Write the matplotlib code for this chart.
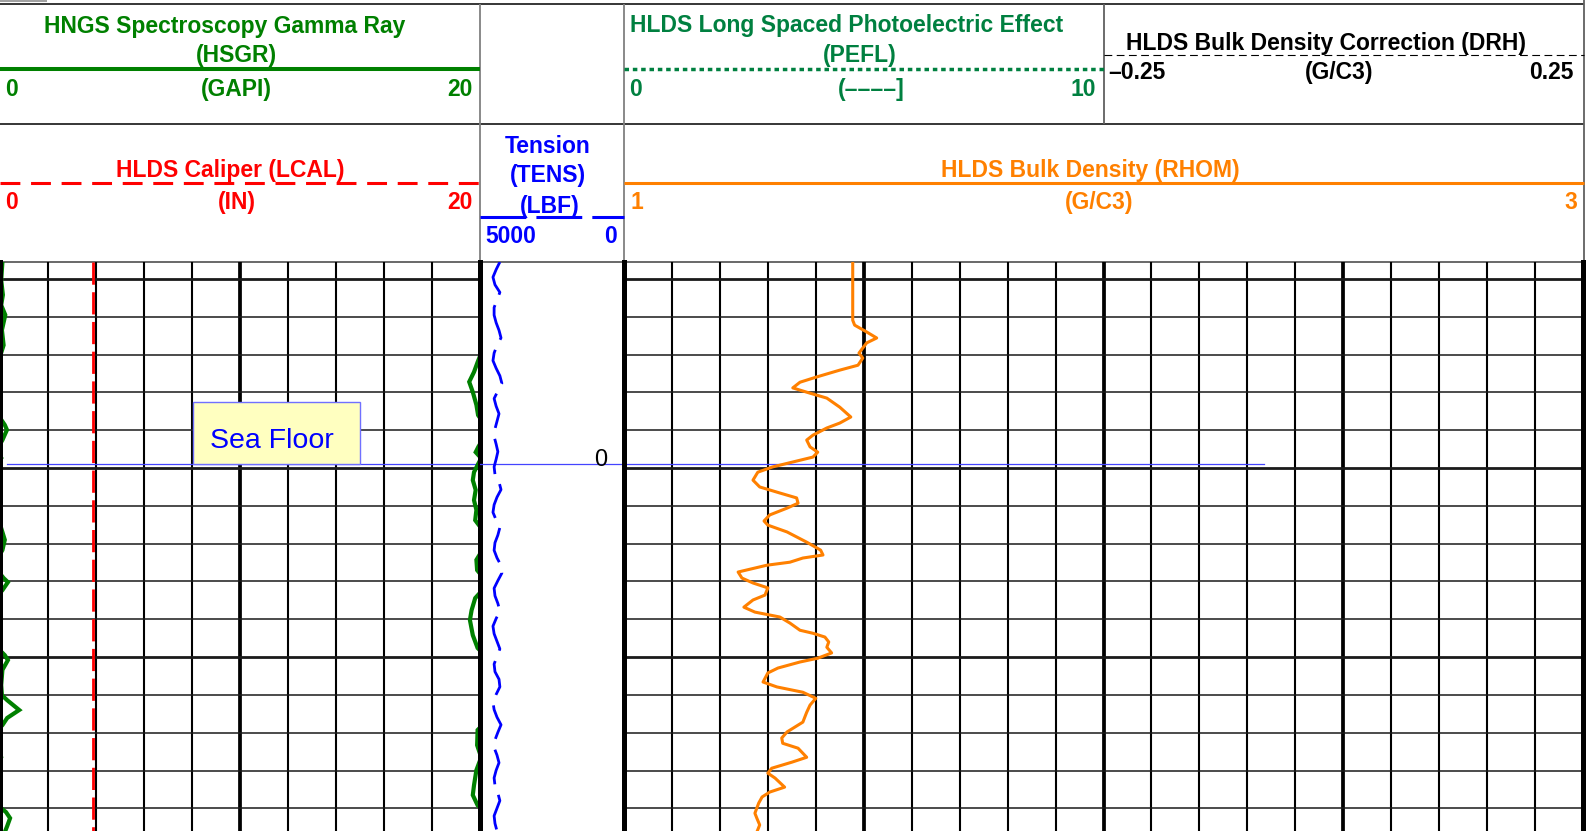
"""
plot.py
Well-log print: HSGR / LCAL, tension and bulk-density tracks around the sea floor.
"""

import numpy as np
import matplotlib
matplotlib.use("Agg")
import matplotlib.pyplot as plt
import matplotlib.transforms as mtransforms
from matplotlib.patches import Rectangle

W, H = 1596, 831
plt.rcParams["font.family"] = ["Liberation Sans", "DejaVu Sans"]

# depth axis in grid units (one unit per horizontal grid line)
TOP_DEPTH = -0.45
BOTTOM_DEPTH = 14.6
SEA_FLOOR_DEPTH = 4.89
SEA_FLOOR_LABEL = "0"

# HLDS bulk density (RHOM), g/cc
RHOM_DEPTH = [-0.45, 1.09, 1.22, 1.40, 1.56, 1.69, 1.96, 2.09, 2.28, 2.41, 2.59, 2.73, 2.88,
              3.02, 3.15, 3.39, 3.65, 3.81, 3.94, 4.13, 4.26, 4.44, 4.58, 4.71, 4.84, 4.97,
              5.11, 5.32, 5.50, 5.66, 5.79, 5.93, 6.06, 6.24, 6.40, 6.51, 6.69, 6.96, 7.17,
              7.30, 7.38, 7.49, 7.57, 7.75, 7.91, 8.04, 8.17, 8.36, 8.49, 8.68, 8.81, 8.94,
              9.10, 9.29, 9.37, 9.47, 9.60, 9.74, 9.89, 10.03, 10.13, 10.29, 10.42, 10.66,
              10.79, 10.93, 11.09, 11.27, 11.46, 11.72, 11.98, 12.14, 12.28, 12.41, 12.65,
              12.78, 12.94, 13.07, 13.20, 13.44, 13.57, 13.70, 13.86, 14.13, 14.26, 14.44, 14.63]
RHOM_GCC = [1.477, 1.477, 1.481, 1.506, 1.527, 1.506, 1.490, 1.498, 1.488, 1.450, 1.402, 1.367,
            1.352, 1.388, 1.423, 1.450, 1.473, 1.450, 1.423, 1.394, 1.381, 1.388, 1.404, 1.394,
            1.352, 1.310, 1.279, 1.269, 1.283, 1.325, 1.360, 1.363, 1.340, 1.304, 1.292, 1.300,
            1.340, 1.381, 1.410, 1.415, 1.373, 1.346, 1.298, 1.238, 1.246, 1.269, 1.300, 1.294,
            1.269, 1.250, 1.273, 1.325, 1.346, 1.367, 1.394, 1.419, 1.427, 1.423, 1.433, 1.404,
            1.367, 1.321, 1.300, 1.290, 1.319, 1.373, 1.400, 1.388, 1.381, 1.373, 1.340, 1.329,
            1.331, 1.363, 1.381, 1.350, 1.308, 1.300, 1.315, 1.335, 1.304, 1.288, 1.281, 1.273,
            1.277, 1.283, 1.277]

# HNGS gamma ray (HSGR), GAPI - hovers around 20 so it wraps onto the backup scale
HSGR_DEPTH = [-0.45, 0.03, 0.42, 0.69, 0.95, 1.35, 1.75, 2.01, 2.20, 2.46, 2.72, 2.99, 3.33,
              3.60, 3.86, 3.99, 4.26, 4.44, 4.58, 4.74, 4.92, 5.11, 5.32, 5.58, 5.85, 6.11,
              6.38, 6.59, 6.90, 7.17, 7.43, 7.70, 7.91, 8.02, 8.23, 8.44, 8.76, 9.02, 9.42,
              9.76, 9.95, 10.08, 10.34, 10.74, 11.01, 11.14, 11.40, 11.61, 11.80, 11.93, 12.33,
              12.65, 12.99, 13.39, 13.65, 13.92, 14.10, 14.26, 14.47, 14.63]
HSGR_GAPI = [20.10, 20.05, 20.12, 20.05, 20.22, 20.08, 20.15, 20.02, 19.90, 19.75, 19.55, 19.70,
             19.85, 19.92, 20.20, 20.29, 20.10, 19.93, 19.82, 20.05, 19.90, 19.75, 19.70, 19.82,
             19.75, 19.85, 19.80, 20.05, 20.20, 20.10, 19.85, 19.88, 20.15, 20.33, 20.10, 19.80,
             19.65, 19.58, 19.70, 19.90, 20.20, 20.33, 20.10, 20.05, 20.08, 20.30, 20.80, 20.30,
             20.10, 19.90, 19.88, 20.05, 19.85, 19.75, 19.70, 19.90, 20.25, 20.42, 20.30, 20.20]

# HLDS caliper (LCAL), inches
LCAL_DEPTH = [-0.45, 14.6]
LCAL_IN = [3.88, 3.88]

# tension (TENS), lbf - regularly sampled from top to bottom of the print
TENS_LBF = [4310, 4440, 4550, 4480, 4310, 4410, 4510, 4510, 4440, 4340,
            4270, 4410, 4510, 4550, 4440, 4310, 4240, 4380, 4510, 4440,
            4340, 4410, 4480, 4510, 4440, 4380, 4440, 4510, 4480, 4340,
            4270, 4410, 4510, 4550, 4440, 4310, 4380, 4480, 4510, 4410,
            4270, 4240, 4380, 4510, 4480, 4380, 4310, 4440, 4550, 4510,
            4410, 4310, 4410, 4510, 4480, 4340, 4310, 4440, 4550, 4510,
            4410, 4270, 4380, 4480, 4510, 4410, 4340, 4440, 4510, 4480,
            4380, 4310, 4410, 4510, 4480, 4410]
TENS_DEPTH = np.linspace(TOP_DEPTH, BOTTOM_DEPTH, len(TENS_LBF))

GREEN = "#008000"
PEF_GREEN = "#008040"
ORANGE = "#ff8000"
RED = "#ff0000"
BLUE = "#0000ff"
GRID = "#1a1a1a"


def px_axes(fig, x0, y0, x1, y1):
    ax = fig.add_axes([x0 / W, 1 - y1 / H, (x1 - x0) / W, (y1 - y0) / H])
    ax.set_axis_off()
    return ax


def wrap_segments(depth, vals, lo, hi):
    """Split a curve into pieces that wrap around the track scale."""
    span = hi - lo
    segs = []
    cur_d, cur_v = [], []
    prev = None
    for d, v in zip(depth, vals):
        k = int(np.floor((v - lo) / span))
        if prev is not None and k != prev[2]:
            d0, v0, k0 = prev
            edge = lo + max(k, k0) * span
            dc = d0 + (edge - v0) / (v - v0) * (d - d0)
            cur_d.append(dc)
            cur_v.append(hi if k > k0 else lo)
            segs.append((cur_d, cur_v))
            cur_d, cur_v = [dc], [lo if k > k0 else hi]
        cur_d.append(d)
        cur_v.append(v - k * span)
        prev = (d, v, k)
    segs.append((cur_d, cur_v))
    return segs


def draw_grid(ax, lo, hi, ndiv):
    for i in range(ndiv + 1):
        x = lo + i * (hi - lo) / ndiv
        if i == 0 or i == ndiv:
            ax.axvline(x, color="black", lw=3.6, zorder=4, clip_on=False)
        elif i % 5 == 0:
            ax.axvline(x, color="black", lw=2.7, zorder=1)
        else:
            ax.axvline(x, color="black", lw=1.5, zorder=1)
    for d in range(0, 15):
        ax.axhline(d, color=GRID, lw=2.0 if d % 5 == 0 else 1.1, zorder=1)


def main():
    fig = plt.figure(figsize=(W / 100, H / 100), dpi=100)

    # ---- header ----
    hd = px_axes(fig, 0, 0, W, H)
    hd.set_xlim(0, W)
    hd.set_ylim(H, 0)

    def hline(x0, x1, y, **kw):
        hd.plot([x0, x1], [y, y], solid_capstyle="butt", dash_capstyle="butt", **kw)

    def vline(x, y0, y1, **kw):
        hd.plot([x, x], [y0, y1], solid_capstyle="butt", **kw)

    def htext(x, y, s, color, ha="center"):
        hd.text(x, y, s, color=color, ha=ha, va="baseline", fontsize=16.5, fontweight="bold")

    hline(0, 47, 0.8, color="#909090", lw=1.2)
    hline(0, 1584, 4, color="black", lw=1.1)
    hline(0, 1584, 124, color="black", lw=1.1)
    hline(0, 1584, 262, color="#404040", lw=1.1)
    vline(480, 4, 262, color="#808080", lw=1.3)
    vline(624, 4, 262, color="#808080", lw=1.3)
    vline(1104, 4, 124, color="#606060", lw=1.3)
    vline(1584, 0, 262, color="#606060", lw=1.3)

    # HSGR
    htext(225, 33, "HNGS Spectroscopy Gamma Ray", GREEN)
    htext(236, 62, "(HSGR)", GREEN)
    hline(0, 480, 69, color=GREEN, lw=2.9)
    htext(5, 96, "0", GREEN, ha="left")
    htext(236, 96, "(GAPI)", GREEN)
    htext(473, 96, "20", GREEN, ha="right")

    # PEFL
    htext(847, 32, "HLDS Long Spaced Photoelectric Effect", PEF_GREEN)
    htext(860, 62, "(PEFL)", PEF_GREEN)
    hline(624, 1104, 69, color=PEF_GREEN, lw=2.5, dashes=(1.3, 1.1))
    htext(629, 96, "0", PEF_GREEN, ha="left")
    htext(871, 96, "(––––]", PEF_GREEN)
    htext(1096, 96, "10", PEF_GREEN, ha="right")

    # DRH
    htext(1326, 50, "HLDS Bulk Density Correction (DRH)", "black")
    hline(1104, 1584, 55, color="black", lw=0.8, dashes=(7, 4))
    htext(1108, 79, "–0.25", "black", ha="left")
    htext(1339, 79, "(G/C3)", "black")
    htext(1573, 79, "0.25", "black", ha="right")

    # LCAL
    htext(230, 177, "HLDS Caliper (LCAL)", RED)
    hline(0, 480, 183, color=RED, lw=2.2, dashes=(6.5, 3.5))
    htext(5, 209, "0", RED, ha="left")
    htext(237, 209, "(IN)", RED)
    htext(473, 209, "20", RED, ha="right")

    # TENS
    htext(548, 153, "Tension", BLUE)
    htext(548, 182, "(TENS)", BLUE)
    htext(550, 213, "(LBF)", BLUE)
    hline(480, 624, 217, color=BLUE, lw=2.2, dashes=(15, 3.3))
    htext(485, 243, "5000", BLUE, ha="left")
    htext(617, 243, "0", BLUE, ha="right")

    # RHOM
    htext(1090, 177, "HLDS Bulk Density (RHOM)", ORANGE)
    hline(624, 1584, 183, color=ORANGE, lw=2.2)
    htext(630, 209, "1", ORANGE, ha="left")
    htext(1099, 209, "(G/C3)", ORANGE)
    htext(1577, 209, "3", ORANGE, ha="right")

    # ---- tracks ----
    ax_l = px_axes(fig, 0, 262, 480, H)
    ax_t = px_axes(fig, 480, 262, 624, H)
    ax_r = px_axes(fig, 624, 262, 1583, H)
    for ax in (ax_l, ax_t, ax_r):
        ax.set_ylim(BOTTOM_DEPTH, TOP_DEPTH)
    ax_l.set_xlim(0, 20)
    ax_t.set_xlim(5000, 0)
    ax_r.set_xlim(1, 3)

    draw_grid(ax_l, 0, 20, 10)
    draw_grid(ax_r, 1, 3, 20)
    ax_t.axvline(0, color="black", lw=3.6, zorder=4, clip_on=False)

    # sea floor marker
    sf_kw = dict(color="#4444ff", lw=0.9, zorder=2)
    ax_l.axhline(SEA_FLOOR_DEPTH, xmin=0.015, **sf_kw)
    ax_t.axhline(SEA_FLOOR_DEPTH, **sf_kw)
    ax_r.axhline(SEA_FLOOR_DEPTH, xmax=0.667, **sf_kw)
    lab_tr = mtransforms.offset_copy(ax_t.transData, fig=fig, y=4, units="dots")
    ax_t.text(590, SEA_FLOOR_DEPTH, SEA_FLOOR_LABEL, transform=lab_tr, ha="right",
              va="center", fontsize=17, color="black")
    ax_l.add_patch(Rectangle((8.04, 3.25), 6.96, SEA_FLOOR_DEPTH - 3.25, facecolor="#ffffc0",
                             edgecolor="#7070ff", lw=1, zorder=5))
    ax_l.text(11.33, 4.47, "Sea Floor", color=BLUE, fontsize=20.5, ha="center",
              va="baseline", zorder=6)

    # curves
    for seg_d, seg_v in wrap_segments(HSGR_DEPTH, HSGR_GAPI, 0, 20):
        ax_l.plot(seg_v, seg_d, color=GREEN, lw=3.0, zorder=3, solid_joinstyle="miter")
    ax_l.plot(LCAL_IN, LCAL_DEPTH, color=RED, lw=2.0, dashes=(8, 2.7), zorder=3)
    ax_t.plot(TENS_LBF, TENS_DEPTH, color=BLUE, lw=2.0, dashes=(13, 4), zorder=3)
    ax_r.plot(RHOM_GCC, RHOM_DEPTH, color=ORANGE, lw=2.2, zorder=3)

    fig.savefig("out.png", dpi=100)


if __name__ == "__main__":
    main()
